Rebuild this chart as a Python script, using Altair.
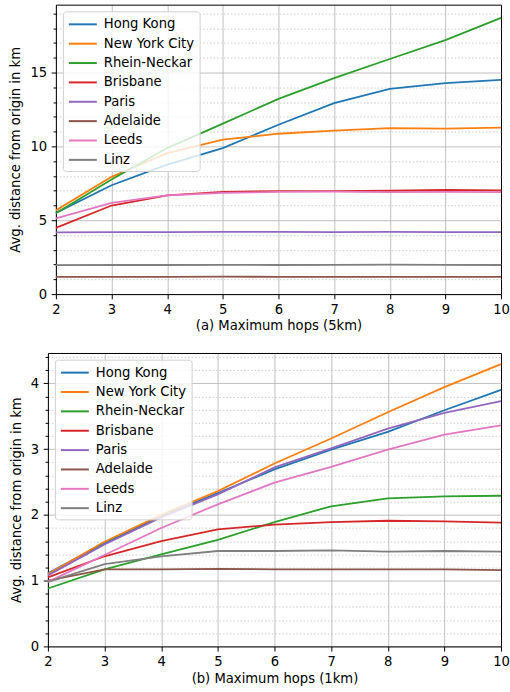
import altair as alt
import pandas as pd

hops = [2, 3, 4, 5, 6, 7, 8, 9, 10]
cities = ["Hong Kong", "New York City", "Rhein-Neckar", "Brisbane",
          "Paris", "Adelaide", "Leeds", "Linz"]
colors = ["#1f77b4", "#ff7f0e", "#2ca02c", "#d62728",
          "#9467bd", "#8c564b", "#e377c2", "#7f7f7f"]

# (a) 5 km
hk_5 = [5.50, 7.37, 8.77, 9.89, 11.47, 12.93, 13.90, 14.28, 14.50]
nyc_5 = [5.67, 7.94, 9.55, 10.46, 10.86, 11.07, 11.24, 11.20, 11.27]
rn_5 = [5.47, 7.76, 9.89, 11.54, 13.22, 14.62, 15.92, 17.20, 18.71]
bris_5 = [4.49, 6.00, 6.68, 6.92, 6.97, 6.97, 7.00, 7.06, 7.02]
paris_5 = [4.18, 4.20, 4.20, 4.22, 4.21, 4.20, 4.22, 4.19, 4.19]
adel_5 = [1.17, 1.17, 1.17, 1.18, 1.17, 1.17, 1.17, 1.17, 1.17]
leeds_5 = [5.13, 6.18, 6.68, 6.85, 6.92, 6.94, 6.90, 6.92, 6.90]
linz_5 = [1.96, 1.97, 1.97, 1.98, 1.97, 1.98, 1.99, 1.98, 1.97]

# (b) 1 km
hk_1 = [1.11, 1.57, 1.98, 2.33, 2.69, 2.99, 3.26, 3.59, 3.90]
nyc_1 = [1.10, 1.59, 2.00, 2.36, 2.78, 3.16, 3.56, 3.94, 4.29]
rn_1 = [0.88, 1.17, 1.40, 1.62, 1.89, 2.13, 2.25, 2.28, 2.29]
bris_1 = [1.05, 1.37, 1.60, 1.78, 1.85, 1.89, 1.91, 1.90, 1.88]
paris_1 = [1.08, 1.55, 1.96, 2.31, 2.72, 3.01, 3.31, 3.55, 3.73]
adel_1 = [1.00, 1.17, 1.17, 1.18, 1.17, 1.17, 1.17, 1.17, 1.16]
leeds_1 = [0.98, 1.39, 1.80, 2.16, 2.49, 2.73, 2.99, 3.22, 3.36]
linz_1 = [0.98, 1.25, 1.37, 1.45, 1.45, 1.46, 1.44, 1.45, 1.44]

y_max_a = 19.6
y_max_b = 4.46
y_ticks_a = [0, 1, 2, 3, 4, 5, 6, 7, 8, 9, 10, 11, 12, 13, 14, 15, 16, 17, 18, 19,
             y_max_a]
y_ticks_b = [0, 0.2, 0.4, 0.6, 0.8, 1, 1.2, 1.4, 1.6, 1.8, 2, 2.2, 2.4, 2.6,
             2.8, 3, 3.2, 3.4, 3.6, 3.8, 4, 4.2, 4.4, y_max_b]

FONT = "DejaVu Sans"
FS = 13.2
W = 454          # common panel width
SHIFT_A = 8      # top panel's plot starts this many px further right


def make_df(series):
    rows = []
    for city, vals in zip(cities, series):
        for h, v in zip(hops, vals):
            rows.append({"city": city, "hop": h, "value": v})
    return pd.DataFrame(rows)


df_a = make_df([hk_5, nyc_5, rn_5, bris_5, paris_5, adel_5, leeds_5, linz_5])
df_b = make_df([hk_1, nyc_1, rn_1, bris_1, paris_1, adel_1, leeds_1, linz_1])


def cond(edge_test, edge_val, major_test, major_val, other):
    return {"condition": [{"test": edge_test, "value": edge_val},
                          {"test": major_test, "value": major_val}],
            "value": other}


def panel(df, ymax, yticks, major_test, xtitle, shift, h):
    edge = f"datum.value > {ymax - 0.01}"
    legend = alt.Legend(
        title=None, orient="none", legendX=shift + 7, legendY=6.7,
        symbolType="M-1,0L3,0", symbolSize=196, symbolStrokeWidth=2,
        labelFont=FONT, labelFontSize=FS, labelColor="black",
        fillColor="rgba(255,255,255,0.8)", strokeColor="#d0d0d0",
        cornerRadius=3, padding=5, rowPadding=4.4, labelOffset=20,
        symbolOpacity=1,
    )
    return alt.Chart(df).mark_line(strokeWidth=1.8).encode(
        x=alt.X("hop:Q", title=xtitle,
                scale=alt.Scale(domain=[2, 10], range=[shift, W], nice=False, zero=False),
                axis=alt.Axis(
                    values=hops, labelFlush=False, tickSize=4.7,
                    labelPadding=4.5, titlePadding=4.5,
                    labelExpr="format(datum.value, 'd')",
                    gridColor={"condition": {"test": "datum.value == 10", "value": "black"},
                               "value": "#b0b0b0"},
                    gridOpacity={"condition": {"test": "datum.value == 10", "value": 1},
                                 "value": 0.8},
                    gridWidth=1)),
        y=alt.Y("value:Q", title="Avg. distance from origin in km",
                scale=alt.Scale(domain=[0, ymax], nice=False),
                axis=alt.Axis(
                    values=yticks, labelOverlap=False, offset=-shift,
                    labelExpr=f"({major_test}) ? format(datum.value, '.0f') : ''",
                    labelFontSize={"condition": {"test": major_test, "value": FS}, "value": 0},
                    tickSize=cond(edge, 0, major_test, 4.7, 2.8),
                    gridDash=cond(edge, [], major_test, [], [1.5, 2]),
                    gridColor=cond(edge, "black", major_test, "#b0b0b0", "#b8b8b8"),
                    gridWidth=cond(edge, 1, major_test, 1, 0.9),
                    gridOpacity=cond(edge, 1, major_test, 0.8, 0.8),
                    labelPadding=4.5, titlePadding=7)),
        color=alt.Color("city:N", sort=cities,
                        scale=alt.Scale(domain=cities, range=colors),
                        legend=legend),
    ).properties(width=W, height=h, view=alt.ViewBackground(stroke=None))


top = panel(df_a, y_max_a, y_ticks_a, "datum.value % 5 == 0",
            "(a) Maximum hops (5km)", SHIFT_A, 290)
bottom = panel(df_b, y_max_b, y_ticks_b,
               "abs(datum.value - round(datum.value)) < 0.001",
               "(b) Maximum hops (1km)", 0, 294)

chart = alt.vconcat(top, bottom, spacing=19).resolve_scale(
    color="independent"
).properties(
    padding={"left": 9, "top": 3, "right": 0, "bottom": 2},
    background="white",
).configure_axis(
    labelFont=FONT, titleFont=FONT, labelFontSize=FS, titleFontSize=FS,
    labelColor="black", titleColor="black", titleFontWeight="normal",
    domainColor="black", tickColor="black", domainWidth=1, tickWidth=1,
)

chart.save("out.html", embed_options={"renderer": "svg", "actions": False})
